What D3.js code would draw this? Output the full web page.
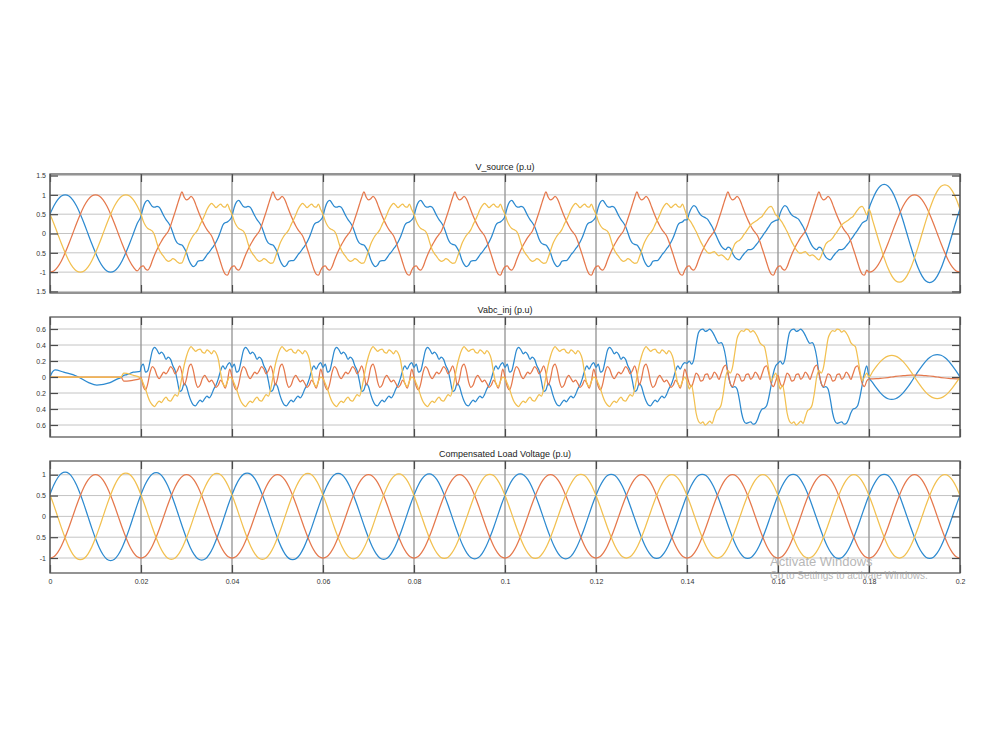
<!DOCTYPE html>
<html>
<head>
<meta charset="utf-8">
<script src="https://cdn.jsdelivr.net/npm/d3@7"></script>
<style>
  body { margin: 0; background: #fff; }
  svg { font-family: "Liberation Sans", Arial, sans-serif; }
</style>
</head>
<body>
<svg id="chart" width="1000" height="750"></svg>
<script>
const period = 0.02;
const xTicks = [0, 0.02, 0.04, 0.06, 0.08, 0.1, 0.12, 0.14, 0.16, 0.18, 0.2];
const xTickLabels = ['0', '0.02', '0.04', '0.06', '0.08', '0.1', '0.12', '0.14', '0.16', '0.18', '0.2'];
const colors = ['#2d8ad0', '#e5784c', '#f2c050'];

const sineCycle = [0, 0.26, 0.5, 0.71, 0.87, 0.97, 1, 0.97, 0.87, 0.71, 0.5, 0.26,
  0, -0.26, -0.5, -0.71, -0.87, -0.97, -1, -0.97, -0.87, -0.71, -0.5, -0.26];
// phase start of a, b, c in sineCycle steps
const phaseShift = [2, 18, 10];

// V_source
const srcTicks = [-1.5, -1, -0.5, 0, 0.5, 1, 1.5];
const srcTickLabels = ['1.5', '-1', '0.5', '0', '0.5', '1', '1.5'];
const srcCleanAmp = [1, 1, 1];
const srcSwellAmp = [1.27, 1.0, 1.26];
// distorted cycles 0.02 - 0.14, 0.5 ms steps
const srcSagA = [0.45, 0.68, 0.82, 0.86, 0.78, 0.70, 0.68, 0.70, 0.68, 0.58,
  0.46, 0.36, 0.28, 0.18, 0.02, -0.15, -0.25, -0.28, -0.30, -0.38,
  -0.50, -0.68, -0.80, -0.86, -0.82, -0.72, -0.70, -0.70, -0.64, -0.55,
  -0.48, -0.40, -0.32, -0.22, -0.10, 0.06, 0.22, 0.28, 0.30, 0.35];
const srcSagB = [-0.86, -0.84, -0.92, -0.95, -0.86, -0.70, -0.55, -0.42, -0.30, -0.20,
  -0.10, -0.02, 0.06, 0.20, 0.38, 0.56, 0.75, 0.93, 1.08, 0.94,
  0.87, 0.90, 0.96, 0.90, 0.76, 0.60, 0.45, 0.32, 0.20, 0.10,
  0.02, -0.06, -0.20, -0.38, -0.56, -0.75, -0.93, -1.05, -1.08, -0.95];
const srcSagC = [0.50, 0.32, 0.20, 0.13, 0.10, 0.06, -0.05, -0.25, -0.42, -0.52,
  -0.60, -0.68, -0.72, -0.70, -0.65, -0.68, -0.74, -0.77, -0.76, -0.62,
  -0.45, -0.27, -0.15, -0.05, 0.02, 0.10, 0.23, 0.35, 0.48, 0.62,
  0.72, 0.78, 0.73, 0.67, 0.72, 0.76, 0.70, 0.68, 0.76, 0.62];
// distorted cycles 0.14 - 0.18 (phase b keeps srcSagB)
const srcSag2A = [0.35, 0.53, 0.66, 0.72, 0.68, 0.57, 0.48, 0.44, 0.41, 0.37,
  0.28, 0.18, 0.05, -0.08, -0.21, -0.32, -0.39, -0.42, -0.35, -0.38,
  -0.51, -0.61, -0.66, -0.68, -0.61, -0.53, -0.47, -0.42, -0.42, -0.39,
  -0.32, -0.25, -0.16, -0.08, 0.01, 0.09, 0.18, 0.27, 0.31, 0.34];
const srcSag2C = [0.44, 0.35, 0.27, 0.16, 0.05, -0.08, -0.21, -0.32, -0.42, -0.49,
  -0.51, -0.49, -0.47, -0.53, -0.58, -0.55, -0.58, -0.64, -0.68, -0.58,
  -0.42, -0.27, -0.21, -0.18, -0.12, -0.03, 0.05, 0.14, 0.22, 0.27,
  0.31, 0.35, 0.40, 0.44, 0.53, 0.61, 0.68, 0.70, 0.61, 0.48];

// Vabc_inj
const injTicks = [-0.6, -0.4, -0.2, 0, 0.2, 0.4, 0.6];
const injTickLabels = ['0.6', '0.4', '0.2', '0', '0.2', '0.4', '0.6'];
// start-up transient, 0 - 0.02
const injStartT = [0, 0.0005, 0.0011, 0.003, 0.0059, 0.0085, 0.0103, 0.0132, 0.0150, 0.0156, 0.0162, 0.0169, 0.0183, 0.0198];
const injStartA = [0, 0.06, 0.09, 0.06, 0.01, -0.07, -0.10, -0.07, -0.02, -0.01, 0.02, 0.03, 0.06, 0.07];
const injStartB = [0, 0, 0, 0, 0, 0, 0, 0, 0, 0, -0.05, -0.05, -0.04, -0.02];
const injStartC = [0, 0, 0, 0, 0, 0, 0, 0, 0, 0, 0.05, 0.045, 0.02, -0.01];
// cycles 0.02 - 0.14
const injA = [0.12, 0.16, 0.06, 0.08, 0.20, 0.33, 0.37, 0.34, 0.29, 0.31,
  0.28, 0.22, 0.25, 0.22, 0.14, 0.08, -0.05, -0.18, -0.16, -0.08,
  -0.12, -0.22, -0.30, -0.35, -0.36, -0.32, -0.29, -0.31, -0.27, -0.24,
  -0.26, -0.22, -0.15, -0.10, -0.02, 0.08, 0.14, 0.10, 0.15, 0.18];
const injB = [0.00, -0.12, -0.16, -0.08, 0.06, 0.13, 0.10, 0.02, -0.02, 0.02,
  0.06, 0.04, 0.08, 0.13, 0.10, 0.04, 0.08, 0.14, 0.05, -0.10,
  -0.02, 0.12, 0.16, 0.08, -0.06, -0.13, -0.10, -0.02, 0.02, -0.02,
  -0.06, -0.04, -0.08, -0.13, -0.10, -0.04, -0.08, -0.14, -0.05, 0.10];
const injC = [-0.02, -0.08, -0.15, -0.24, -0.31, -0.35, -0.37, -0.33, -0.30, -0.32,
  -0.28, -0.25, -0.29, -0.30, -0.26, -0.22, -0.24, -0.15, 0.00, 0.15,
  0.26, 0.34, 0.38, 0.35, 0.32, 0.34, 0.35, 0.31, 0.30, 0.34,
  0.32, 0.29, 0.33, 0.30, 0.22, 0.05, -0.08, -0.12, -0.05, 0.00];
// cycles 0.14 - 0.18
const inj2A = [0.17, 0.20, 0.16, 0.22, 0.40, 0.55, 0.59, 0.60, 0.57, 0.58,
  0.60, 0.57, 0.52, 0.46, 0.42, 0.43, 0.38, 0.25, 0.05, -0.08,
  -0.13, -0.12, -0.15, -0.28, -0.45, -0.55, -0.58, -0.57, -0.56, -0.59,
  -0.58, -0.53, -0.45, -0.40, -0.39, -0.36, -0.25, -0.10, 0.05, 0.14];
const inj2B = [0.02, -0.08, -0.12, -0.04, 0.05, 0.02, -0.05, -0.04, 0.03, 0.04,
  -0.03, 0.00, 0.06, 0.03, -0.03, 0.04, 0.12, 0.15, 0.05, -0.08,
  -0.12, -0.04, 0.04, 0.02, -0.05, -0.04, 0.03, 0.04, -0.03, 0.00,
  0.06, 0.03, -0.03, 0.04, 0.12, 0.14, 0.04, -0.08, -0.12, -0.05];
const inj2C = [-0.05, -0.15, -0.10, -0.25, -0.45, -0.55, -0.58, -0.56, -0.60, -0.58,
  -0.55, -0.58, -0.50, -0.42, -0.40, -0.35, -0.20, 0.00, 0.08, 0.05,
  0.12, 0.30, 0.48, 0.55, 0.58, 0.57, 0.60, 0.59, 0.56, 0.58,
  0.55, 0.50, 0.43, 0.40, 0.38, 0.25, 0.08, -0.05, 0.00, 0.05];
// last cycle 0.18 - 0.2
const injEndAmp = [-0.28, 0.025, 0.27];
const injEndShift = [0, 18, 0];

// Compensated load voltage, peak of each cycle
const loadTicks = [-1, -0.5, 0, 0.5, 1];
const loadTickLabels = ['-1', '0.5', '0', '0.5', '1'];
const loadAmpA = [1.06, 1.05, 1.04, 1.03, 1.02, 1.02, 1.01, 1.01, 1.01, 1.01];
const loadAmpB = [1.0, 1.0, 1.0, 1.0, 1.0, 1.0, 1.0, 1.0, 1.0, 1.0];
const loadAmpC = [1.04, 1.03, 1.03, 1.02, 1.01, 1.01, 1.0, 1.0, 1.0, 1.0];

function sineShape(amp, shift) {
  return sineCycle.map((_, k) => amp * sineCycle[(k + shift) % sineCycle.length]);
}

function pushCycles(points, t0, shapes) {
  shapes.forEach((shape, c) => {
    const dt = period / shape.length;
    shape.forEach((v, k) => points.push([t0 + c * period + k * dt, v]));
  });
}

// Build the series.
const srcSag = [srcSagA, srcSagB, srcSagC];
const srcSag2 = [srcSag2A, srcSagB, srcSag2C];
const srcSeries = [0, 1, 2].map(i => {
  const pts = [];
  pushCycles(pts, 0, [sineShape(srcCleanAmp[i], phaseShift[i])]);
  pushCycles(pts, 0.02, d3.range(6).map(() => srcSag[i]));
  pushCycles(pts, 0.14, d3.range(2).map(() => srcSag2[i]));
  const swell = sineShape(srcSwellAmp[i], phaseShift[i]);
  pushCycles(pts, 0.18, [swell]);
  pts.push([0.2, swell[0]]);
  return pts;
});

const injStart = [injStartA, injStartB, injStartC];
const injMid = [injA, injB, injC];
const injMid2 = [inj2A, inj2B, inj2C];
const injSeries = [0, 1, 2].map(i => {
  const pts = injStartT.map((t, k) => [t, injStart[i][k]]);
  pushCycles(pts, 0.02, d3.range(6).map(() => injMid[i]));
  pushCycles(pts, 0.14, d3.range(2).map(() => injMid2[i]));
  const last = sineShape(injEndAmp[i], injEndShift[i]);
  pushCycles(pts, 0.18, [last]);
  pts.push([0.2, last[0]]);
  return pts;
});

const loadAmp = [loadAmpA, loadAmpB, loadAmpC];
const loadSeries = [0, 1, 2].map(i => {
  const pts = [];
  pushCycles(pts, 0, loadAmp[i].map(a => sineShape(a, phaseShift[i])));
  pts.push([0.2, loadAmp[i][9] * sineCycle[phaseShift[i]]]);
  return pts;
});

// Setup.
const svg = d3.select('#chart');
const x = d3.scaleLinear().domain([0, 0.2]).range([50, 960]);

const panels = [
  {title: 'V_source (p.u)', top: 174, bottom: 293, domain: [-1.54, 1.54],
    ticks: srcTicks, labels: srcTickLabels, series: srcSeries, showX: false},
  {title: 'Vabc_inj (p.u)', top: 317, bottom: 437, domain: [-0.75, 0.75],
    ticks: injTicks, labels: injTickLabels, series: injSeries, showX: false},
  {title: 'Compensated Load Voltage (p.u)', top: 461, bottom: 573, domain: [-1.36, 1.33],
    ticks: loadTicks, labels: loadTickLabels, series: loadSeries, showX: true},
];

panels.forEach((p, i) => {
  const y = d3.scaleLinear().domain(p.domain).range([p.bottom, p.top]);
  const g = svg.append('g');

  svg.append('clipPath').attr('id', 'clip' + i)
      .append('rect')
      .attr('x', 50).attr('y', p.top)
      .attr('width', 910).attr('height', p.bottom - p.top);

  // Grid.
  g.append('g').selectAll('line').data(p.ticks).join('line')
      .attr('x1', 50).attr('x2', 960)
      .attr('y1', d => y(d)).attr('y2', d => y(d))
      .attr('stroke', '#c4c4c4').attr('stroke-width', 1);
  g.append('g').selectAll('line').data(xTicks).join('line')
      .attr('x1', d => x(d)).attr('x2', d => x(d))
      .attr('y1', p.top).attr('y2', p.bottom)
      .attr('stroke', '#9a9a9a').attr('stroke-width', 1.4);

  // Lines.
  const line = d3.line()
      .x(d => x(d[0]))
      .y(d => y(d[1]))
      .curve(d3.curveMonotoneX);
  g.append('g').attr('clip-path', `url(#clip${i})`)
      .selectAll('path').data(p.series).join('path')
      .attr('d', line)
      .attr('fill', 'none')
      .attr('stroke', (d, k) => colors[k])
      .attr('stroke-width', 1.25)
      .attr('stroke-linejoin', 'round');

  // Axes.
  const styleAxis = sel => {
    sel.select('.domain').remove();
    sel.selectAll('.tick line').attr('stroke', '#4a4a4a').attr('stroke-width', 1.2);
    sel.selectAll('.tick text').attr('fill', '#333').attr('font-size', 7)
        .attr('font-family', '"Liberation Sans", Arial, sans-serif');
  };
  g.append('g').attr('transform', 'translate(50,0)')
      .call(d3.axisLeft(y).tickValues(p.ticks)
          .tickFormat((d, k) => p.labels[k]).tickSize(-8).tickPadding(4))
      .call(styleAxis);
  g.append('g').attr('transform', 'translate(960,0)')
      .call(d3.axisRight(y).tickValues(p.ticks).tickFormat('').tickSize(-8))
      .call(styleAxis);
  g.append('g').attr('transform', `translate(0,${p.top})`)
      .call(d3.axisTop(x).tickValues(xTicks).tickFormat('').tickSize(-8))
      .call(styleAxis);
  g.append('g').attr('transform', `translate(0,${p.bottom})`)
      .call(d3.axisBottom(x).tickValues(xTicks)
          .tickFormat((d, k) => p.showX ? xTickLabels[k] : '').tickSize(-8).tickPadding(6))
      .call(styleAxis);

  // Box and title.
  g.append('rect')
      .attr('x', 50).attr('y', p.top)
      .attr('width', 910).attr('height', p.bottom - p.top)
      .attr('fill', 'none').attr('stroke', '#5a5a5a').attr('stroke-width', 1.3);
  g.append('text')
      .attr('x', 505).attr('y', p.top - 4.5)
      .attr('text-anchor', 'middle')
      .attr('font-size', 9).attr('fill', '#222')
      .text(p.title);
});

// Windows watermark seen over the screenshot (it sits over the x labels there too).
svg.append('text').attr('x', 770).attr('y', 566)
    .attr('font-size', 13).attr('fill', '#a6a6a6').attr('opacity', 0.8)
    .text('Activate Windows');
svg.append('text').attr('x', 770).attr('y', 579)
    .attr('font-size', 10).attr('fill', '#a6a6a6').attr('opacity', 0.8)
    .text('Go to Settings to activate Windows.');
</script>
</body>
</html>
